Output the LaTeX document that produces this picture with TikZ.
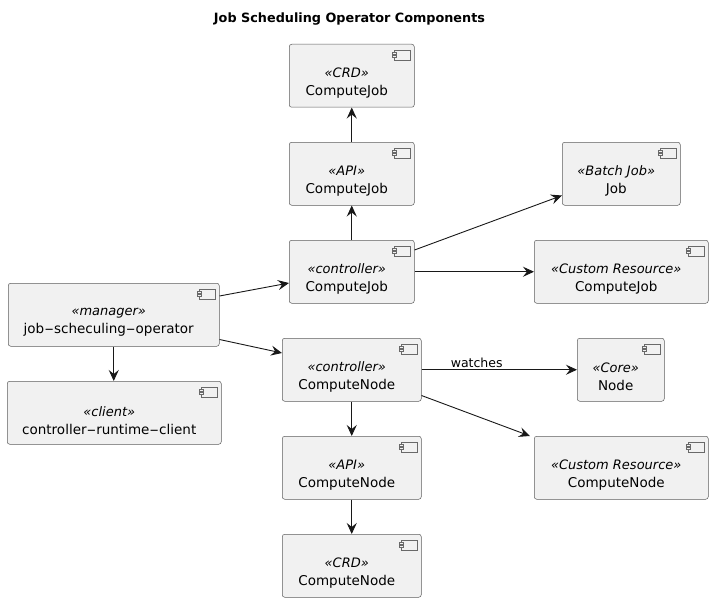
\documentclass[tikz,border=0pt]{standalone}
\usepackage{graphicx}
\usepackage{fontspec}
\setmainfont{DejaVu Sans}
\usetikzlibrary{arrows.meta,calc}
\definecolor{boxfill}{HTML}{F1F1F1}
\definecolor{ink}{HTML}{181818}
\tikzset{
  comp/.style={draw=ink!70,line width=0.5pt,fill=boxfill,rounded corners=2.5pt,inner sep=0pt,anchor=north west},
  complabel/.style={align=center,inner sep=0pt,font=\fontsize{13.5}{18}\selectfont,text=black},
  link/.style={draw=ink,line width=0.9pt,-{Stealth[length=11pt,width=10pt,inset=4pt]}},
  iconpart/.style={draw=ink!65,line width=0.5pt,fill=boxfill},
}
\newcommand{\st}[1]{{\fontsize{13}{18}\selectfont\textit{«#1»}}}
\newcommand{\hy}{\scalebox{2}[1]{-}}
\newcommand{\compbox}[7]{% name x1 y1 x2 y2 stereo label
  \node[comp,minimum width=#4pt-#2pt,minimum height=#5pt-#3pt] (#1) at (#2pt,-#3pt) {};
  \node[complabel] (#1 label) at ([xshift=-5pt,yshift=-7.5pt]#1.center) {\st{#6}\\#7};
  \draw[iconpart] ([xshift=-20pt,yshift=-6pt]#1.north east) rectangle ([xshift=-4pt,yshift=-16pt]#1.north east);
  \draw[iconpart] ([xshift=-22pt,yshift=-8.5pt]#1.north east) rectangle ([xshift=-18pt,yshift=-10.5pt]#1.north east);
  \draw[iconpart] ([xshift=-22pt,yshift=-11.5pt]#1.north east) rectangle ([xshift=-18pt,yshift=-13.5pt]#1.north east);
}
\begin{document}
\begin{tikzpicture}[x=1pt,y=1pt]
\useasboundingbox (0,0) rectangle (713,-602);
\node[font=\bfseries\fontsize{12.8}{16}\selectfont] (title) at (349.5,-19.5) {Job Scheduling Operator Components};
\compbox{crdj}{289}{44}{414}{107}{CRD}{ComputeJob}
\compbox{apij}{289}{142}{414}{205}{API}{ComputeJob}
\compbox{ctlj}{289}{240}{414}{303}{controller}{ComputeJob}
\compbox{batch}{562}{142}{680}{205}{Batch Job}{Job}
\compbox{crj}{534}{240}{708}{303}{Custom Resource}{ComputeJob}
\compbox{mgr}{8}{283}{219}{346}{manager}{job\hy scheculing\hy operator}
\compbox{client}{7}{381}{221}{444}{client}{controller\hy runtime\hy client}
\compbox{ctln}{282}{338}{421}{401}{controller}{ComputeNode}
\compbox{core}{577}{338}{664}{401}{Core}{Node}
\compbox{crn}{534}{436}{708}{499}{Custom Resource}{ComputeNode}
\compbox{apin}{282}{436}{421}{499}{API}{ComputeNode}
\compbox{crdn}{282}{534}{421}{597}{CRD}{ComputeNode}
\draw[link] (apij) -- (crdj);
\draw[link] (ctlj) -- (apij);
\draw[link] ([yshift=-10pt]ctlj.north east) -- ([yshift=10pt]batch.south west);
\draw[link] (ctlj) -- (crj);
\draw[link] ([yshift=-13pt]mgr.north east) -- (ctlj.north west |- 0,-283);
\draw[link] ([yshift=7pt]mgr.south east) -- ([yshift=-15pt]ctln.north west);
\draw[link] (mgr.south) -- (mgr.south |- client.north);
\draw[link] (ctln) -- node[above,font=\fontsize{12.5}{15}\selectfont,inner sep=2pt,pos=.355] (w) {watches} (core);
\draw[link] ([yshift=6pt]ctln.south east) -- ([xshift=-4pt]crn.north west);
\draw[link] (ctln) -- (apin);
\draw[link] (apin) -- (crdn);
\end{tikzpicture}
\end{document}
